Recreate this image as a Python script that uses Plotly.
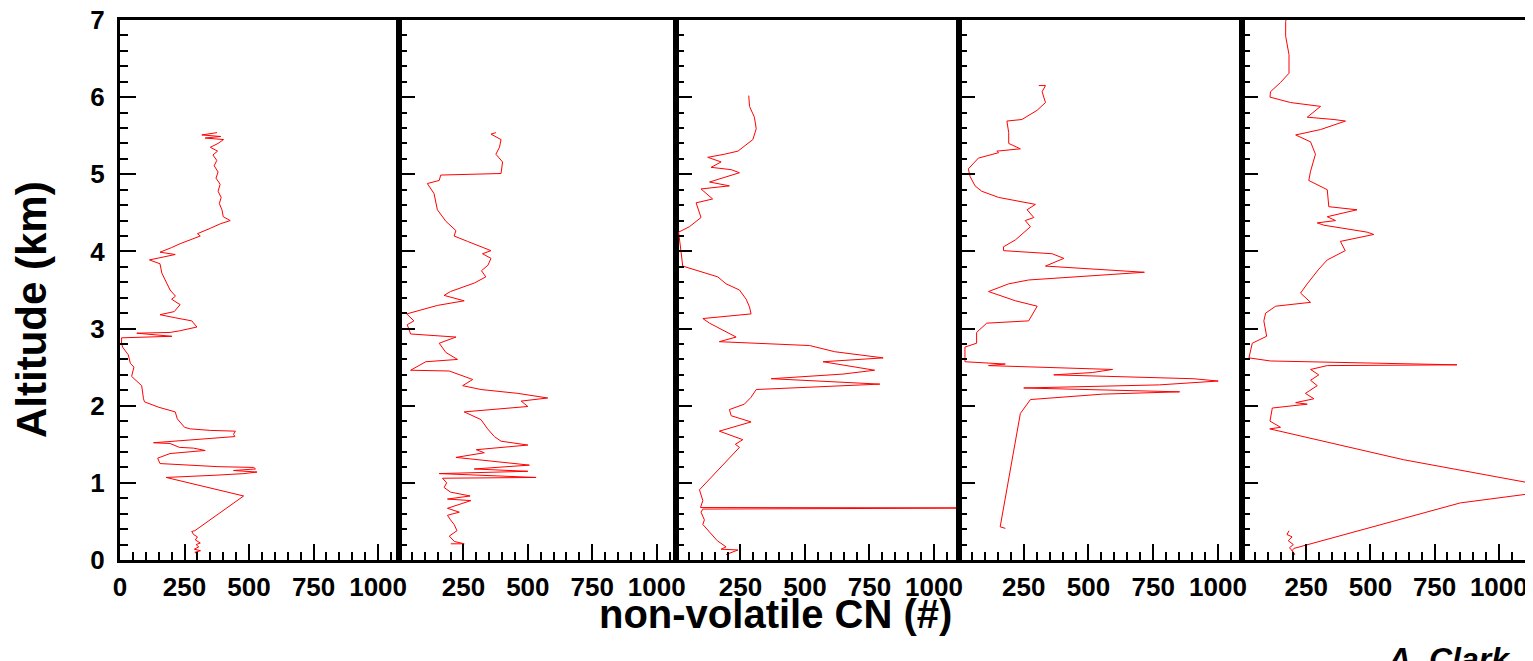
import plotly.graph_objects as go

# ---------------- data ----------------
p1_cn = [300, 290, 312, 288, 305, 295, 311, 292, 300, 285, 278, 290, 479, 179, 376, 480, 531, 440, 525, 518,
         380, 155, 146, 194, 330, 285, 230, 194, 130, 210, 300, 445, 440, 447, 350, 272, 250, 233, 222, 214,
         150, 95, 91, 84, 60, 45, 54, 40, 32, 10, 6, 6, 201, 65, 194, 230, 298, 278, 214, 155,
         210, 233, 200, 215, 194, 180, 162, 155, 114, 214, 155, 200, 233, 311, 300, 350, 390, 427, 400, 395,
         385, 392, 380, 388, 372, 380, 365, 375, 360, 378, 350, 380, 401, 330, 390, 317, 376]
p1_alt = [0.08, 0.10, 0.12, 0.14, 0.17, 0.20, 0.22, 0.26, 0.30, 0.33, 0.37, 0.38, 0.83, 1.07, 1.10, 1.12, 1.14, 1.16, 1.18, 1.20,
          1.21, 1.25, 1.32, 1.38, 1.42, 1.45, 1.46, 1.51, 1.52, 1.54, 1.56, 1.60, 1.63, 1.67, 1.68, 1.70, 1.72, 1.78, 1.83, 1.92,
          1.98, 2.05, 2.09, 2.26, 2.33, 2.38, 2.50, 2.55, 2.66, 2.76, 2.81, 2.88, 2.90, 2.94, 2.95, 2.97, 3.02, 3.10, 3.14, 3.18,
          3.22, 3.31, 3.38, 3.42, 3.50, 3.60, 3.72, 3.84, 3.89, 3.96, 3.99, 4.05, 4.10, 4.20, 4.23, 4.30, 4.36, 4.40, 4.45, 4.54,
          4.62, 4.70, 4.78, 4.87, 4.95, 5.03, 5.11, 5.18, 5.25, 5.30, 5.35, 5.40, 5.45, 5.47, 5.49, 5.51, 5.54]

p2_cn = [201, 253, 215, 195, 225, 214, 200, 188, 234, 188, 279, 188, 276, 200, 175, 185, 169, 532, 156, 500,
         292, 506, 221, 331, 300, 500, 396, 370, 344, 330, 318, 253, 500, 474, 577, 461, 318, 247, 286, 195,
         45, 104, 227, 182, 170, 156, 221, 45, 32, 58, 30, 149, 253, 175, 200, 292, 337, 320, 345, 357,
         324, 357, 266, 214, 221, 182, 149, 145, 136, 110, 156, 162, 396, 402, 376, 390, 396, 357, 376]
p2_alt = [0.21, 0.21, 0.24, 0.31, 0.38, 0.46, 0.52, 0.58, 0.62, 0.67, 0.77, 0.79, 0.83, 0.88, 0.94, 1.00, 1.06, 1.07, 1.12, 1.15,
          1.18, 1.23, 1.33, 1.39, 1.43, 1.49, 1.54, 1.60, 1.70, 1.76, 1.82, 1.92, 1.99, 2.06, 2.10, 2.16, 2.21, 2.26, 2.34, 2.45,
          2.46, 2.57, 2.60, 2.69, 2.75, 2.81, 2.89, 2.93, 3.05, 3.10, 3.19, 3.30, 3.36, 3.43, 3.48, 3.59, 3.67, 3.75, 3.82, 3.91,
          3.97, 4.01, 4.13, 4.20, 4.27, 4.39, 4.54, 4.62, 4.75, 4.88, 4.92, 4.99, 5.01, 5.16, 5.26, 5.35, 5.45, 5.52, 5.54]

p3_cn = [194, 240, 175, 194, 160, 136, 104, 110, 97, 104, 1300, 95, 104, 91, 246, 230, 259, 168, 291, 214,
         207, 265, 291, 311, 790, 369, 647, 770, 570, 803, 615, 518, 168, 233, 200, 130, 104, 291, 285, 272,
         246, 194, 162, 26, 19, 10, 52, 97, 78, 142, 97, 207, 130, 246, 214, 136, 175, 123, 188, 240,
         298, 311, 304, 285, 282]
p3_alt = [0.07, 0.13, 0.14, 0.17, 0.25, 0.34, 0.46, 0.52, 0.62, 0.66, 0.675, 0.68, 0.77, 0.91, 1.46, 1.50, 1.56, 1.67, 1.79, 1.87,
          1.95, 2.02, 2.11, 2.21, 2.28, 2.35, 2.41, 2.46, 2.57, 2.62, 2.70, 2.78, 2.83, 2.89, 2.95, 3.07, 3.13, 3.19, 3.28, 3.38,
          3.50, 3.58, 3.67, 3.81, 4.01, 4.25, 4.32, 4.44, 4.63, 4.68, 4.81, 4.85, 4.90, 5.02, 5.06, 5.09, 5.16, 5.22, 5.26, 5.30,
          5.45, 5.59, 5.74, 5.88, 6.02]

p4_cn = [179, 159, 237, 256, 276, 555, 852, 250, 774, 1001, 904, 366, 515, 593, 114, 179, 23, 23, 68, 68,
         107, 269, 302, 218, 114, 192, 269, 716, 334, 405, 360, 172, 172, 218, 276, 256, 289, 263, 295, 153,
         88, 62, 43, 36, 75, 153, 146, 237, 192, 192, 185, 243, 302, 334, 321, 334, 308]
p4_alt = [0.41, 0.43, 1.90, 1.99, 2.08, 2.15, 2.18, 2.23, 2.27, 2.32, 2.35, 2.40, 2.43, 2.47, 2.52, 2.54, 2.57, 2.76, 2.81, 2.95,
          3.07, 3.10, 3.29, 3.36, 3.48, 3.58, 3.63, 3.73, 3.81, 3.91, 3.97, 4.01, 4.06, 4.15, 4.32, 4.40, 4.44, 4.54, 4.61, 4.70,
          4.78, 4.85, 4.97, 5.07, 5.21, 5.28, 5.30, 5.33, 5.40, 5.54, 5.69, 5.71, 5.83, 5.93, 6.07, 6.15, 6.15]

p5_cn = [183, 175, 195, 180, 200, 185, 200, 205, 195, 202, 850, 1102, 1400, 1102, 629, 108, 150, 109, 118, 254,
         209, 280, 247, 293, 267, 299, 267, 332, 837, 111, 27, 40, 96, 85, 92, 131, 267, 228, 254, 299,
         332, 402, 383, 513, 487, 319, 293, 364, 332, 448, 338, 332, 260, 267, 286, 267, 209, 306, 403, 358,
         254, 306, 189, 109, 111, 150, 183, 183, 170, 170, 175]
p5_alt = [0.38, 0.33, 0.30, 0.25, 0.20, 0.16, 0.10, 0.07, 0.12, 0.15, 0.74, 0.85, 0.93, 1.01, 1.30, 1.70, 1.72, 1.80, 1.97, 2.02,
          2.04, 2.09, 2.16, 2.26, 2.33, 2.40, 2.47, 2.52, 2.53, 2.58, 2.62, 2.81, 2.90, 3.10, 3.20, 3.29, 3.34, 3.46, 3.58, 3.77,
          3.89, 4.01, 4.13, 4.22, 4.25, 4.34, 4.37, 4.40, 4.45, 4.54, 4.58, 4.80, 4.92, 5.04, 5.26, 5.42, 5.51, 5.58, 5.69, 5.71,
          5.74, 5.88, 5.93, 6.00, 6.07, 6.19, 6.31, 6.55, 6.79, 6.98, 7.05]

x_tickvals = [0, 250, 500, 750, 1000]
x_ticktext_first = ["0", "250", "500", "750", "1000"]
x_ticktext_other = ["", "250", "500", "750", "1000"]
y_tickvals = [0, 1, 2, 3, 4, 5, 6, 7]
y_ticktext = ["0", "1", "2", "3", "4", "5", "6", "7"]

x_title = "non-volatile CN (#)"
y_title = "Altitude (km)"
credit = "A. Clark"

# ---------------- figure ----------------
panels = [(p1_cn, p1_alt), (p2_cn, p2_alt), (p3_cn, p3_alt), (p4_cn, p4_alt), (p5_cn, p5_alt)]
# panel edges in page pixels (the page body has an 8 px margin)
OFF = 8
edges_px = [120, 399, 676, 959, 1242, 1525]
x_max = [1081, 1075, 1097, 1093, 1102]

W, H = 1533 - OFF, 661 - OFF
ml, mr, mt, mb = 120 - OFF, 8, 20 - OFF, 101
pw = W - ml - mr
ph = H - mt - mb

FONT = "Liberation Sans, Arial, Helvetica, sans-serif"
TICKSIZE = 26

fig = go.Figure()
layout = {}
for i, (cn, alt) in enumerate(panels):
    n = "" if i == 0 else str(i + 1)
    fig.add_trace(go.Scatter(x=cn, y=alt, mode="lines",
                             line=dict(color="#ff0000", width=1),
                             xaxis="x" + n, yaxis="y" + n, showlegend=False,
                             hoverinfo="skip"))
    d0 = (edges_px[i] - OFF - ml) / pw
    d1 = (edges_px[i + 1] - OFF - ml) / pw
    layout["xaxis" + n] = dict(
        domain=[d0, d1], anchor="y" + n, range=[0, x_max[i]],
        tickmode="array", tickvals=x_tickvals,
        ticktext=x_ticktext_first if i == 0 else x_ticktext_other,
        ticks="inside", ticklen=16, tickwidth=2, tickcolor="black",
        minor=dict(ticks="inside", tickmode="linear", tick0=0, dtick=50, ticklen=8,
                   tickwidth=1.5, tickcolor="black", showgrid=False),
        showline=True, linewidth=3, linecolor="black", mirror=True,
        showgrid=False, zeroline=False, automargin=False, tickangle=0,
        ticklabeloverflow="allow",
        tickfont=dict(family=FONT, size=TICKSIZE, color="black", weight="bold"),
        ticklabelstandoff=2,
    )
    layout["yaxis" + n] = dict(
        domain=[0, 1], anchor="x" + n, range=[0, 7],
        tickmode="array", tickvals=y_tickvals, ticktext=y_ticktext,
        showticklabels=(i == 0),
        ticks="inside", ticklen=16, tickwidth=2, tickcolor="black",
        minor=dict(ticks="inside", tickmode="linear", tick0=0, dtick=0.2, ticklen=8,
                   tickwidth=1.5, tickcolor="black", showgrid=False),
        showline=True, linewidth=3, linecolor="black", mirror=True,
        showgrid=False, zeroline=False, automargin=False,
        ticklabeloverflow="allow",
        tickfont=dict(family=FONT, size=TICKSIZE, color="black", weight="bold"),
        ticklabelstandoff=7,
    )

fig.update_layout(
    width=W, height=H,
    margin=dict(l=ml, r=mr, t=mt, b=mb, pad=0, autoexpand=False),
    paper_bgcolor="white", plot_bgcolor="white",
    font=dict(family=FONT, color="black"),
    **layout,
)


def px_x(px):
    return (px - OFF - ml) / pw


def px_y(py):
    return (H - mb - (py - OFF)) / ph


fig.add_annotation(text=y_title, textangle=-90, xref="paper", yref="paper",
                   x=px_x(32), y=px_y(310), showarrow=False,
                   xanchor="center", yanchor="middle",
                   font=dict(family=FONT, size=42, color="black", weight="bold"))
fig.add_annotation(text=x_title, xref="paper", yref="paper",
                   x=px_x(775), y=px_y(614), showarrow=False,
                   xanchor="center", yanchor="middle",
                   font=dict(family=FONT, size=40, color="black", weight="bold"))
fig.add_annotation(text=credit, xref="paper", yref="paper",
                   x=px_x(1385), y=px_y(639), showarrow=False,
                   xanchor="left", yanchor="top",
                   font=dict(family=FONT, size=32, color="black", weight="bold", style="italic"))

fig.write_html("out.html")
